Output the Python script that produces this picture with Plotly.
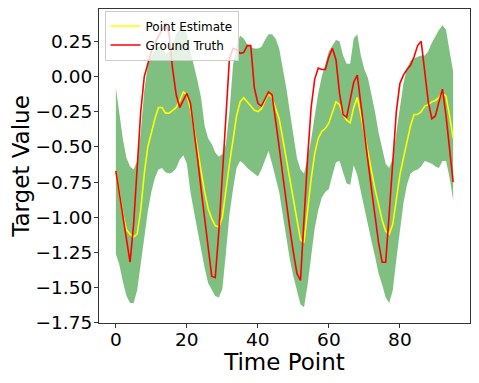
import plotly.graph_objects as go

# time index 0..95
time_point = list(range(96))

point_estimate = [
    -0.67, -0.82, -0.98, -1.09, -1.12, -1.14, -1.12, -0.95, -0.69, -0.50,
    -0.39, -0.30, -0.22, -0.22, -0.26, -0.26, -0.24, -0.22, -0.17, -0.11,
    -0.13, -0.23, -0.37, -0.52, -0.68, -0.82, -0.94, -1.01, -1.06, -1.07,
    -1.00, -0.80, -0.62, -0.45, -0.28, -0.18, -0.15, -0.18, -0.21, -0.24,
    -0.25, -0.23, -0.17, -0.12, -0.15, -0.22, -0.30, -0.44, -0.58, -0.73,
    -0.88, -1.02, -1.16, -1.18, -0.95, -0.73, -0.55, -0.44, -0.39, -0.37,
    -0.33, -0.25, -0.18, -0.20, -0.27, -0.31, -0.33, -0.22, -0.15, -0.27,
    -0.41, -0.54, -0.67, -0.80, -0.92, -1.02, -1.10, -1.12, -1.05, -0.87,
    -0.70, -0.58, -0.46, -0.35, -0.27, -0.27, -0.25, -0.21, -0.20, -0.18,
    -0.17, -0.15, -0.12, -0.14, -0.28, -0.44,
]

ground_truth = [
    -0.67, -0.83, -1.00, -1.16, -1.32, -1.05, -0.65, -0.25, 0.00, 0.10,
    0.18, 0.24, 0.29, 0.33, 0.38, 0.30, 0.05, -0.13, -0.22, -0.17,
    -0.12, -0.19, -0.37, -0.58, -0.80, -1.01, -1.22, -1.42, -1.43, -1.10,
    -0.70, -0.30, 0.13, 0.20, 0.19, 0.165, 0.17, 0.22, 0.22, -0.08,
    -0.19, -0.21, -0.16, -0.11, -0.13, -0.30, -0.50, -0.70, -0.90, -1.08,
    -1.25, -1.40, -1.45, -1.00, -0.58, -0.22, -0.02, 0.06, 0.05, 0.05,
    0.14, 0.20, 0.12, -0.12, -0.27, -0.29, -0.15, -0.04, 0.01, -0.18,
    -0.40, -0.60, -0.80, -1.00, -1.18, -1.32, -1.32, -0.97, -0.60, -0.25,
    -0.05, 0.01, 0.05, 0.08, 0.14, 0.22, 0.25, 0.03, -0.18, -0.30,
    -0.28, -0.18, -0.09, -0.28, -0.50, -0.75,
]

upper_bound = [
    -0.08, -0.25, -0.45, -0.58, -0.64, -0.66, -0.60, -0.40, -0.10, 0.08,
    0.15, 0.18, 0.21, 0.22, 0.16, 0.17, 0.22, 0.30, 0.34, 0.35,
    0.30, 0.18, 0.08, -0.03, -0.15, -0.35, -0.44, -0.48, -0.54, -0.57,
    -0.55, -0.48, -0.25, 0.08, 0.22, 0.29, 0.27, 0.23, 0.21, 0.20,
    0.20, 0.21, 0.26, 0.30, 0.30, 0.27, 0.20, 0.07, -0.08, -0.25,
    -0.42, -0.58, -0.66, -0.69, -0.58, -0.45, -0.28, -0.12, 0.00, 0.10,
    0.18, 0.22, 0.26, 0.25, 0.15, 0.09, 0.09, 0.27, 0.30, 0.15,
    0.05, -0.01, -0.12, -0.25, -0.40, -0.52, -0.62, -0.65, -0.58, -0.40,
    -0.22, -0.05, 0.06, 0.11, 0.13, 0.14, 0.15, 0.15, 0.18, 0.24,
    0.29, 0.33, 0.365, 0.33, 0.18, 0.035,
]

lower_bound = [
    -1.26, -1.34, -1.46, -1.56, -1.61, -1.61, -1.52, -1.34, -1.14, -0.96,
    -0.82, -0.72, -0.66, -0.65, -0.68, -0.69, -0.68, -0.65, -0.59, -0.56,
    -0.62, -0.82, -0.96, -1.10, -1.24, -1.36, -1.47, -1.52, -1.56, -1.57,
    -1.51, -1.25, -0.98, -0.80, -0.65, -0.60, -0.62, -0.65, -0.67, -0.69,
    -0.71, -0.66, -0.59, -0.53, -0.62, -0.72, -0.82, -0.98, -1.14, -1.30,
    -1.42, -1.52, -1.62, -1.64, -1.48, -1.28, -1.08, -0.95, -0.86, -0.82,
    -0.80, -0.70, -0.61, -0.60, -0.68, -0.76, -0.77, -0.63, -0.70, -0.82,
    -0.95, -1.06, -1.17, -1.28, -1.40, -1.48, -1.57, -1.61, -1.52, -1.30,
    -1.10, -0.90, -0.77, -0.69, -0.67, -0.66, -0.64, -0.60, -0.61, -0.62,
    -0.64, -0.65, -0.60, -0.60, -0.72, -0.88,
]

font_family = "DejaVu Sans"
frame_color = "#333333"

fig = go.Figure()

# uncertainty band
fig.add_trace(
    go.Scatter(
        x=time_point, y=lower_bound, mode="lines",
        line=dict(width=0, color="rgba(0,128,0,0)"),
        showlegend=False, hoverinfo="skip",
    )
)
fig.add_trace(
    go.Scatter(
        x=time_point, y=upper_bound, mode="lines",
        line=dict(width=0, color="rgba(0,128,0,0)"),
        fill="tonexty", fillcolor="rgba(0,128,0,0.5)",
        showlegend=False, hoverinfo="skip",
    )
)
fig.add_trace(
    go.Scatter(
        x=time_point, y=point_estimate, mode="lines",
        name="Point Estimate", line=dict(color="#ffff00", width=1.6),
    )
)
fig.add_trace(
    go.Scatter(
        x=time_point, y=ground_truth, mode="lines",
        name="Ground Truth", line=dict(color="#ff0000", width=1.6),
    )
)

axis_common = dict(
    showgrid=False, zeroline=False, automargin=False,
    showline=True, linecolor=frame_color, linewidth=1, mirror=True,
    ticks="outside", ticklen=4, tickwidth=1, tickcolor=frame_color,
    tickfont=dict(family=font_family, size=18.5, color="black"),
)

# page body adds an 8px margin all round, so the figure is shrunk to fit
fig.update_layout(
    width=463, height=367,
    margin=dict(l=91, r=1, t=1, b=52),
    paper_bgcolor="white", plot_bgcolor="white",
    font=dict(family=font_family, color="black"),
    xaxis=dict(
        range=[-4.75, 99.75], tick0=0, dtick=20, ticklabelstandoff=-4,
        title=dict(text="Time Point", font=dict(family=font_family, size=23), standoff=0),
        **axis_common,
    ),
    yaxis=dict(
        range=[-1.752, 0.48], tick0=0, dtick=0.25, tickformat=".2f",
        ticklabelstandoff=-2,
        title=dict(text="Target Value", font=dict(family=font_family, size=23), standoff=0),
        **axis_common,
    ),
    legend=dict(
        x=0.015, y=0.995, xanchor="left", yanchor="top",
        bgcolor="rgba(255,255,255,0.8)", bordercolor="#cccccc", borderwidth=1,
        font=dict(family=font_family, size=12),
        tracegroupgap=0, itemwidth=30, traceorder="normal",
    ),
)

fig.write_html("out.html")
